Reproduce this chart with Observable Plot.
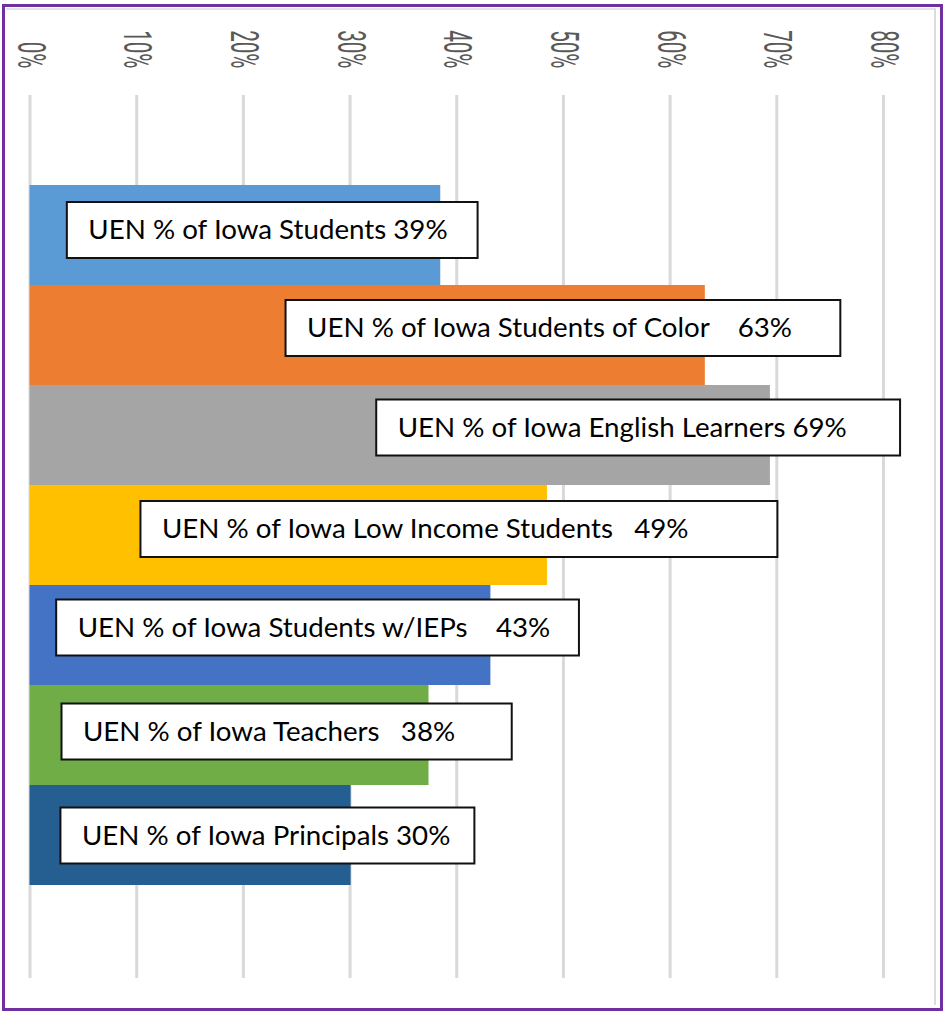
<!DOCTYPE html>
<html><head><meta charset="utf-8">
<script src="https://cdn.jsdelivr.net/npm/d3@7"></script>
<script src="https://cdn.jsdelivr.net/npm/@observablehq/plot@0.6"></script>
<style>
html,body{margin:0;padding:0;background:#fff;}
#wrap{position:relative;width:943px;height:1011px;overflow:hidden;background:#fff;}
#chart{position:absolute;left:0;top:0;}
#inner{position:absolute;left:6px;top:8px;width:930px;height:997px;border-top:2px solid #e3e3e3;border-right:2px solid #dcdcdc;box-sizing:border-box;pointer-events:none;}
#frame{position:absolute;left:2px;top:4px;width:941px;height:1007px;border:3px solid #7030A0;box-sizing:border-box;pointer-events:none;}
</style></head><body>
<div id="wrap"><div id="chart"></div><div id="inner"></div><div id="frame"></div></div>
<script>
const categories = ["Students", "Students of Color", "English Learners", "Low Income Students", "Students w/IEPs", "Teachers", "Principals"];
const values = [38.5, 63.3, 69.4, 48.5, 43.2, 37.4, 30.1];
const labels = [
  "UEN % of Iowa Students 39%",
  "UEN % of Iowa Students of Color\u00A0\u00A0\u00A0 63%",
  "UEN % of Iowa English Learners 69%",
  "UEN % of Iowa Low Income Students\u00A0\u00A0 49%",
  "UEN % of Iowa Students w/IEPs\u00A0\u00A0\u00A0 43%",
  "UEN % of Iowa Teachers\u00A0\u00A0 38%",
  "UEN % of Iowa Principals 30%"
];
const colors = ["#5B9BD5", "#ED7D31", "#A5A5A5", "#FFC000", "#4472C4", "#70AD47", "#255E91"];
const xTicks = [0, 10, 20, 30, 40, 50, 60, 70, 80];
const tickLabels = ["0%", "10%", "20%", "30%", "40%", "50%", "60%", "70%", "80%"];
// annotation boxes (in % units of the x scale)
const boxFrom = [3.5, 24.0, 32.5, 10.4, 2.5, 3.0, 2.9];
const boxTo = [42.0, 76.0, 81.6, 70.1, 51.5, 45.2, 41.7];
const boxShift = [-5, -7, -7.5, -6, -7.5, -3.5, 0.5];

const data = categories.map((c, i) => ({category: c, value: values[i], label: labels[i], from: boxFrom[i], to: boxTo[i]}));

const LABEL_FONT = "Lato";
const LABEL_SIZE = 27.7;

const plot = Plot.plot({
  width: 943,
  height: 1011,
  marginTop: 95,
  marginBottom: 33,
  marginLeft: 29.5,
  marginRight: 60,
  style: {background: "transparent", overflow: "visible"},
  x: {domain: [0, 80], label: null},
  y: {domain: categories, padding: 0, insetTop: 90, insetBottom: 93, axis: null, label: null},
  color: {domain: categories, range: colors},
  marks: [
    Plot.gridX(xTicks, {stroke: "#d9d9d9", strokeOpacity: 1, strokeWidth: 3}),
    Plot.axisX(xTicks, {anchor: "top", tickSize: 0, tickPadding: 27, tickRotate: 90,
      tickFormat: d => tickLabels[xTicks.indexOf(d)], label: null,
      fill: "#595959", fontSize: 39, fontFamily: "Roboto", fontWeight: 400}),
    Plot.barX(data, {x: "value", y: "category", fill: "category"}),
    ...data.map((d, i) => Plot.barX([d], {x1: "from", x2: "to", y: "category", insetTop: 22, insetBottom: 22, dy: boxShift[i],
      fill: "white", stroke: "#111", strokeWidth: 2})),
    ...data.map((d, i) => Plot.text([d], {x: "from", y: "category", text: "label", dx: 21, dy: boxShift[i],
      textAnchor: "start", fill: "#000", fontSize: LABEL_SIZE, fontFamily: LABEL_FONT}))
  ]
});
document.getElementById("chart").appendChild(plot);

// condense the rotated tick labels along their reading direction
d3.select(plot).selectAll('g[aria-label="x-axis tick label"] text').each(function() {
  const t = this.getAttribute("transform") || "";
  this.setAttribute("transform", t + " scale(0.53,1)");
});
</script>
</body></html>
